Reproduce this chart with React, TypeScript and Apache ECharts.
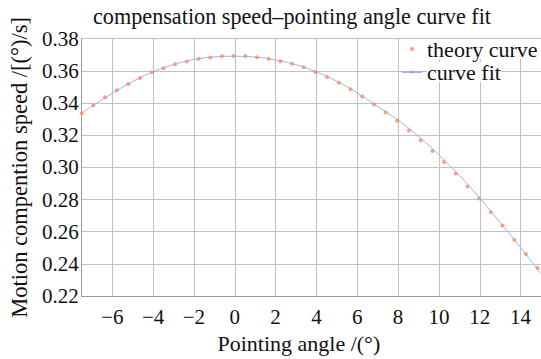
import React, { useEffect, useRef } from "react";
import * as echarts from "echarts";

const theoryX = [
  -7.5, -6.93, -6.35, -5.78, -5.21, -4.64, -4.06, -3.49, -2.92, -2.35,
  -1.77, -1.2, -0.63, -0.06, 0.52, 1.09, 1.66, 2.23, 2.81, 3.38,
  3.95, 4.52, 5.1, 5.67, 6.24, 6.82, 7.39, 7.96, 8.53, 9.11,
  9.68, 10.25, 10.82, 11.4, 11.97, 12.54, 13.11, 13.69, 14.26, 14.83,
];
const theoryY = [
  0.3335, 0.3385, 0.3436, 0.3479, 0.3518, 0.3555, 0.3591, 0.3616, 0.3641, 0.3657,
  0.3674, 0.3682, 0.369, 0.3692, 0.3692, 0.3684, 0.3674, 0.3659, 0.3643, 0.3622,
  0.3592, 0.3561, 0.3526, 0.3485, 0.344, 0.3391, 0.3342, 0.3289, 0.3229, 0.3168,
  0.3101, 0.3033, 0.2961, 0.2881, 0.2806, 0.2723, 0.2638, 0.255, 0.2462, 0.2374,
];
const fitX = [-7.5, -7, -6, -5, -4, -3, -2, -1, 0, 1, 2, 3, 4, 5, 6, 7, 8, 9, 10, 11, 12, 13, 14, 15];
const fitY = [
  0.3338, 0.338, 0.346, 0.3533, 0.3594, 0.3639, 0.367, 0.3686, 0.369, 0.3685,
  0.3667, 0.3637, 0.3592, 0.3535, 0.3462, 0.3378, 0.3293, 0.3192, 0.3077, 0.295,
  0.2809, 0.2657, 0.2502, 0.2338,
];
const xTicks = [-6, -4, -2, 0, 2, 4, 6, 8, 10, 12, 14];
const titleText = "compensation speed\u2013pointing angle curve fit";
const xName = "Pointing angle /(\u00b0)";
const yName = "Motion compention speed /[(\u00b0)/s]";
const seriesNames = ["theory curve", "curve fit"];

const FONT = "Liberation Serif, DejaVu Serif, serif";
const txt = (size: number) => ({
  fontFamily: FONT,
  fontSize: size,
  fontWeight: "normal" as const,
  fontStyle: "normal" as const,
  color: "#111",
});

export default function App() {
  const ref = useRef<HTMLDivElement>(null);
  useEffect(() => {
    if (!ref.current) return;
    const chart = echarts.init(ref.current, null, { renderer: "svg" });
    const gridColor = "#c2c2c2";
    chart.setOption({
      animation: false,
      backgroundColor: "#ffffff",
      textStyle: txt(12),
      title: {
        text: titleText,
        left: 93,
        top: 5,
        padding: 0,
        textStyle: txt(22.2),
      },
      legend: {
        orient: "vertical",
        left: 401,
        top: 38,
        padding: 0,
        itemGap: 1,
        itemWidth: 20,
        itemHeight: 4,
        data: seriesNames,
        textStyle: { ...txt(22), lineHeight: 20, backgroundColor: "#fff" },
      },
      grid: { left: 74, top: 38.6, right: -2, bottom: 47.3, containLabel: false },
      xAxis: {
        type: "value",
        min: -7.5,
        max: 15,
        name: xName,
        nameLocation: "middle",
        nameGap: 24.5,
        nameTextStyle: { ...txt(22), padding: [0, 25, 0, 0] },
        axisLine: { show: true, onZero: false, lineStyle: { color: "#9a9a9a", width: 1 } },
        axisTick: { show: false, customValues: xTicks },
        axisLabel: {
          ...txt(21),
          customValues: xTicks,
          margin: 10,
          formatter: (v: number) => (v < 0 ? "\u2212" + Math.abs(v) : String(v)),
        },
        splitLine: { show: true, lineStyle: { color: gridColor, width: 1 } },
      },
      yAxis: {
        type: "value",
        min: 0.22,
        max: 0.38,
        interval: 0.02,
        name: yName,
        nameLocation: "middle",
        nameGap: 41,
        nameTextStyle: txt(22.5),
        axisLine: { show: true, onZero: false, lineStyle: { color: "#9a9a9a", width: 1 } },
        axisTick: { show: false },
        axisLabel: {
          ...txt(21),
          margin: 3,
          formatter: (v: number) => v.toFixed(2),
        },
        splitLine: { show: true, lineStyle: { color: gridColor, width: 1 } },
      },
      series: [
        {
          name: seriesNames[0],
          type: "scatter",
          symbol: "circle",
          symbolSize: 4,
          itemStyle: { color: "#f38d66" },
          data: theoryX.map((x, i) => [x, theoryY[i]]),
          z: 3,
        },
        {
          name: seriesNames[1],
          type: "line",
          symbol: "none",
          smooth: true,
          lineStyle: { color: "#a3aeea", width: 1 },
          itemStyle: { color: "#a3aeea" },
          data: fitX.map((x, i) => [x, fitY[i]]),
          z: 2,
        },
      ],
    });
    return () => chart.dispose();
  }, []);
  return (
    <div
      ref={ref}
      style={{ position: "fixed", left: 0, top: 0, width: 541, height: 359, background: "#fff" }}
    />
  );
}
